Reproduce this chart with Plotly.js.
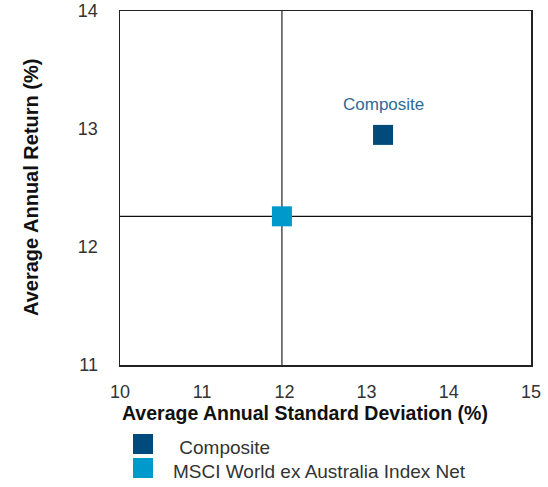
<!DOCTYPE html>
<html><head><meta charset="utf-8">
<script src="https://cdn.plot.ly/plotly-3.0.1.min.js"></script>
<style>body{margin:0;background:#fff}#chart{width:548px;height:487px}</style>
</head><body><div id="chart"></div>
<script>
const seriesNames = ["Composite", "MSCI World ex Australia Index Net"];
const legendLabels = [" Composite", "MSCI World ex Australia Index Net"];
const stdDev = [13.2, 11.97];
const annReturn = [12.95, 12.26];
const colors = ["#004B7C", "#0099CC"];
const xTicks = [10, 11, 12, 13, 14, 15];
const yTicks = [11, 12, 13, 14];

const traces = seriesNames.map((n, i) => ({
  type: "scatter", mode: "markers",
  x: [stdDev[i]], y: [annReturn[i]],
  name: legendLabels[i],
  marker: {symbol: "square", size: 20, color: colors[i]},
  showlegend: false
}));

// plot area in pixels (for placing the legend chips below the chart)
const W = 548, H = 487, M = {l: 120, r: 17, t: 11, b: 122};
const pw = W - M.l - M.r, ph = H - M.t - M.b;
const px = p => (p - M.l) / pw;
const py = p => (H - M.b - p) / ph;
const legX = 143, legY = [444, 468], legHalf = 10;
const textX = [172, 171];

const benchX = stdDev[1], benchY = annReturn[1];
const shapes = [
  {type: "line", xref: "x", yref: "paper", x0: benchX, x1: benchX, y0: 0, y1: 1,
   line: {color: "#333", width: 1.3}, layer: "below"},
  {type: "line", xref: "paper", yref: "y", x0: 0, x1: 1, y0: benchY, y1: benchY,
   line: {color: "#111", width: 1.3}, layer: "below"}
];
const annotations = [
  {text: seriesNames[0], x: stdDev[0], y: annReturn[0], xref: "x", yref: "y",
   showarrow: false, yshift: 30, font: {size: 17, color: "#2E6A98",
   family: "Liberation Sans, Arial, sans-serif"}},
  {text: "Average Annual Standard Deviation (%)", xref: "paper", yref: "paper",
   x: 0, xanchor: "left", y: py(413), yanchor: "middle", showarrow: false,
   font: {family: "Liberation Sans, Arial, sans-serif", size: 19.5, color: "#111", weight: "bold"}},
  {text: "Average Annual Return (%)", xref: "paper", yref: "paper",
   x: px(31), xanchor: "center", y: py(188), yanchor: "middle", textangle: -90,
   showarrow: false,
   font: {family: "Liberation Sans, Arial, sans-serif", size: 20, color: "#111", weight: "bold"}}
];
legendLabels.forEach((lab, i) => {
  shapes.push({type: "rect", xref: "paper", yref: "paper",
    x0: px(legX - legHalf), x1: px(legX + legHalf),
    y0: py(legY[i] + legHalf), y1: py(legY[i] - legHalf),
    fillcolor: colors[i], line: {width: 0}});
  annotations.push({text: lab, xref: "paper", yref: "paper", x: px(textX[i]),
    xanchor: "left", y: py(legY[i] + 3), yanchor: "middle", showarrow: false,
    font: {family: "Liberation Sans, Arial, sans-serif", size: 19, color: "#333"}});
});

const axisCommon = {showgrid: false, zeroline: false, showline: true, mirror: true,
  linecolor: "#222", linewidth: 1.5, ticks: "outside", tickcolor: "rgba(0,0,0,0)",
  tickfont: {size: 18, color: "#333", family: "Liberation Sans, Arial, sans-serif"},
  fixedrange: true};
const layout = {
  width: W, height: H,
  margin: Object.assign({autoexpand: false}, M),
  paper_bgcolor: "#fff", plot_bgcolor: "#fff",
  font: {family: "Liberation Sans, Arial, sans-serif", color: "#222", size: 16},
  xaxis: Object.assign({}, axisCommon, {range: [10, 15], tickvals: xTicks,
    ticktext: xTicks.map(String), ticklen: 10}),
  yaxis: Object.assign({}, axisCommon, {range: [11, 14], tickvals: yTicks,
    ticktext: yTicks.map(String), ticklen: 17}),
  shapes: shapes,
  annotations: annotations,
  showlegend: false
};
Plotly.newPlot("chart", traces, layout, {displayModeBar: false, staticPlot: true});
</script></body></html>
